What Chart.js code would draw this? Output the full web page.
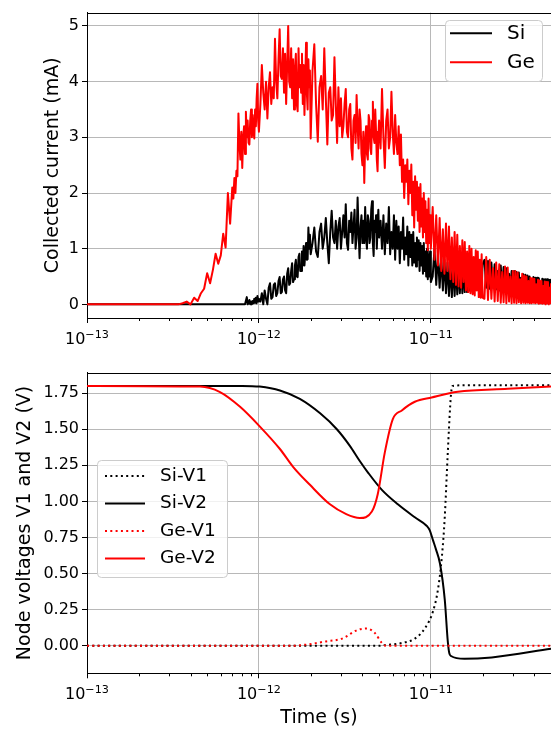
<!DOCTYPE html>
<html>
<head>
<meta charset="utf-8">
<script src="https://cdn.jsdelivr.net/npm/chart.js@4.4.1/dist/chart.umd.min.js"></script>
<style>
  html, body { margin: 0; padding: 0; background: #fff; }
  #wrap { position: relative; width: 551px; height: 729px; }
  canvas { position: absolute; left: 0; }
  #current { top: 0; }
  #voltage { top: 360px; }
</style>
</head>
<body>
<div id="wrap">
  <canvas id="current" width="551" height="360"></canvas>
  <canvas id="voltage" width="551" height="369"></canvas>
</div>
<script>
const FONT = '"DejaVu Sans", sans-serif';

// axis ticks
const xTickValues = [1e-13, 1e-12, 1e-11];
const xTickExponents = ['−13', '−12', '−11'];
const currentTicks = [0, 1, 2, 3, 4, 5];
const voltageTicks = [0, 0.25, 0.5, 0.75, 1, 1.25, 1.5, 1.75];

// collected current, time in ps, current in mA
const timePs = [0.1, 0.34,
  0.36, 0.38, 0.40, 0.42, 0.44, 0.46, 0.48, 0.50, 0.52, 0.54, 0.56, 0.58, 0.60, 0.62, 0.64, 0.66, 0.68, 0.70,
  0.71, 0.72, 0.73, 0.74, 0.75, 0.76, 0.77, 0.78, 0.79, 0.80,
  0.81, 0.82, 0.83, 0.84, 0.85, 0.86, 0.87, 0.88, 0.89, 0.90,
  0.91, 0.92, 0.93, 0.94, 0.95, 0.96, 0.97, 0.98, 0.99, 1.00,
  1.02, 1.04, 1.06, 1.08, 1.10, 1.12, 1.14, 1.16, 1.18, 1.20,
  1.22, 1.24, 1.26, 1.28, 1.30, 1.32, 1.34, 1.36, 1.38, 1.40,
  1.42, 1.44, 1.46, 1.48, 1.50, 1.52, 1.54, 1.56, 1.58, 1.60,
  1.62, 1.64, 1.66, 1.68, 1.70, 1.72, 1.74, 1.76, 1.78, 1.80,
  1.82, 1.84, 1.86, 1.88, 1.90, 1.92, 1.94, 1.96, 1.98, 2.00,
  2.05, 2.10, 2.15, 2.20, 2.25, 2.30, 2.35, 2.40, 2.45, 2.50,
  2.55, 2.60, 2.65, 2.70, 2.75, 2.80, 2.85, 2.90, 2.95, 3.00,
  3.05, 3.10, 3.15, 3.20, 3.25, 3.30, 3.35, 3.40, 3.45, 3.50,
  3.55, 3.60, 3.65, 3.70, 3.75, 3.80, 3.85, 3.90, 3.95, 4.00,
  4.05, 4.10, 4.15, 4.20, 4.25, 4.30, 4.35, 4.40, 4.45, 4.50,
  4.55, 4.60, 4.65, 4.70, 4.75, 4.80, 4.85, 4.90, 4.95, 5.00,
  5.1, 5.2, 5.3, 5.4, 5.5, 5.6, 5.7, 5.8, 5.9, 6.0,
  6.1, 6.2, 6.3, 6.4, 6.5, 6.6, 6.7, 6.8, 6.9, 7.0,
  7.1, 7.2, 7.3, 7.4, 7.5, 7.6, 7.7, 7.8, 7.9, 8.0,
  8.1, 8.2, 8.3, 8.4, 8.5, 8.6, 8.7, 8.8, 8.9, 9.0,
  9.1, 9.2, 9.3, 9.4, 9.5, 9.6, 9.7, 9.8, 9.9, 10.0,
  10.25, 10.5, 10.75, 11.0, 11.25, 11.5, 11.75, 12.0, 12.25, 12.5,
  12.75, 13.0, 13.25, 13.5, 13.75, 14.0, 14.25, 14.5, 14.75, 15.0,
  15.25, 15.5, 15.75, 16.0, 16.25, 16.5, 16.75, 17.0, 17.25, 17.5,
  17.75, 18.0, 18.25, 18.5, 18.75, 19.0, 19.25, 19.5, 19.75, 20.0,
  20.5, 21, 21.5, 22, 22.5, 23, 23.5, 24, 24.5, 25,
  25.5, 26, 26.5, 27, 27.5, 28, 28.5, 29, 29.5, 30,
  30.5, 31, 31.5, 32, 32.5, 33, 33.5, 34, 34.5, 35,
  35.5, 36, 36.5, 37, 37.5, 38, 38.5, 39, 39.5, 40,
  40.5, 41, 41.5, 42, 42.5, 43, 43.5, 44, 44.5, 45,
  45.5, 46, 46.5, 47, 47.5, 48, 48.5, 49, 49.5, 50];

const siCurrent = [0, 0,
  0, 0, 0, 0, 0, 0, 0, 0, 0, 0, 0, 0, 0, 0, 0, 0, 0, 0,
  0, 0, 0, 0, 0, 0, 0, 0, 0, 0,
  0, 0, 0, 0, 0.13, 0.0, 0.02, 0.08, 0.0, 0.05,
  0.0, 0.06, 0.02, 0.1, 0.03, 0.12, 0.02, 0.15, 0.05, 0.1,
  0.05, 0.2, 0.0, 0.25, 0.1, 0.0, 0.3, 0.38, 0.1, 0.13,
  0.35, 0.38, 0.15, 0.2, 0.42, 0.49, 0.2, 0.22, 0.45, 0.5,
  0.25, 0.2, 0.55, 0.65, 0.35, 0.38, 0.6, 0.74, 0.4, 0.45,
  0.7, 0.8, 0.5, 0.49, 0.85, 0.91, 0.6, 0.6, 0.95, 0.7,
  1.05, 0.7, 0.9, 1.1, 0.8, 0.81, 1.38, 1.0, 1.25, 0.9,
  1.1, 1.38, 0.95, 0.85, 1.3, 1.45, 1.0, 1.2, 1.55, 1.1,
  0.74, 1.3, 1.68, 1.2, 1.1, 1.5, 1.0, 1.4, 1.55, 1.0,
  1.3, 1.6, 1.2, 1.8, 1.1, 0.98, 1.5, 1.3, 1.65, 1.1,
  1.4, 1.7, 1.0, 1.2, 1.92, 1.3, 0.83, 1.4, 1.6, 1.1,
  1.5, 1.1, 1.75, 1.2, 1.0, 1.6, 1.5, 1.1, 1.2, 1.7,
  1.85, 1.1, 0.87, 1.5, 1.3, 1.6, 1.0, 1.4, 1.7, 1.2,
  1.5, 1.0, 1.6, 0.9, 1.45, 1.1, 1.75, 0.9, 1.3, 1.0,
  1.6, 0.8, 1.5, 1.0, 1.4, 0.74, 1.3, 1.0, 1.56, 0.8,
  1.2, 0.9, 1.4, 0.7, 1.3, 0.85, 1.25, 0.7, 1.3, 0.75,
  1.1, 0.68, 1.2, 0.8, 1.15, 0.6, 1.1, 0.7, 1.05, 0.55,
  1.1, 0.6, 0.95, 0.5, 1.0, 0.45, 0.9, 0.5, 0.95, 0.4,
  0.5, 1.0, 0.35, 0.9, 0.3, 0.85, 0.25, 0.8, 0.2, 0.75,
  0.15, 0.7, 0.13, 0.72, 0.15, 0.7, 0.18, 0.72, 0.2, 0.75,
  0.2, 0.72, 0.22, 0.75, 0.22, 0.78, 0.25, 0.75, 0.25, 0.78,
  0.28, 0.76, 0.28, 0.8, 0.3, 0.75, 0.3, 0.79, 0.3, 0.72,
  0.8, 0.3, 0.78, 0.28, 0.75, 0.3, 0.72, 0.27, 0.6, 0.25,
  0.7, 0.25, 0.67, 0.24, 0.65, 0.22, 0.55, 0.22, 0.6, 0.22,
  0.6, 0.2, 0.58, 0.2, 0.57, 0.2, 0.48, 0.2, 0.54, 0.19,
  0.53, 0.19, 0.52, 0.18, 0.5, 0.18, 0.42, 0.18, 0.49, 0.17,
  0.48, 0.17, 0.48, 0.16, 0.47, 0.16, 0.4, 0.16, 0.46, 0.15,
  0.45, 0.15, 0.45, 0.15, 0.45, 0.15, 0.44, 0.15, 0.44, 0.15];

const geCurrent = [0, 0,
  0.02, 0.05, 0.0, 0.12, 0.06, 0.2, 0.28, 0.56, 0.38, 0.62, 0.91, 0.73, 0.88, 1.27, 1.02, 2.0, 1.45, 2.1,
  1.9, 2.27, 2.0, 2.4, 2.3, 3.43, 2.9, 2.6, 3.1, 2.45,
  3.0, 3.2, 2.7, 3.46, 3.0, 3.3, 2.9, 2.87, 3.3, 3.5,
  3.0, 3.4, 3.1, 2.98, 3.5, 3.2, 3.7, 3.96, 3.3, 3.1,
  3.6, 4.3, 3.8, 3.5, 4.0, 3.34, 3.9, 4.17, 3.6, 3.9,
  3.7, 4.77, 4.0, 3.7, 4.4, 4.94, 4.1, 4.05, 4.6, 3.8,
  4.5, 3.6, 4.3, 5.0, 4.0, 3.9, 4.6, 3.7, 4.4, 3.5,
  4.2, 4.5, 3.6, 3.47, 4.6, 3.9, 4.3, 3.8, 4.5, 3.6,
  4.3, 3.4, 4.0, 4.7, 3.8, 3.5, 4.4, 3.9, 4.2, 2.98,
  4.2, 4.67, 3.6, 2.92, 3.9, 4.1, 3.5, 4.6, 3.7, 2.87,
  3.8, 3.9, 3.3, 3.4, 4.44, 3.6, 2.9, 3.9, 3.2, 3.7,
  3.0, 3.2, 3.6, 3.87, 3.1, 3.0, 3.5, 3.6, 2.8, 2.6,
  3.3, 3.4, 2.9, 3.76, 3.2, 2.8, 3.5, 3.3, 2.7, 2.5,
  3.1, 2.18, 2.9, 3.2, 2.7, 2.6, 3.4, 3.3, 2.8, 2.7,
  3.3, 3.64, 3.0, 2.9, 3.5, 3.1, 2.6, 2.39, 3.0, 3.3,
  2.8, 3.87, 3.0, 2.45, 3.3, 3.5, 2.8, 3.0, 3.82, 3.1,
  2.7, 3.4, 2.9, 2.7, 3.2, 2.5, 3.05, 2.2, 2.6, 1.91,
  2.5, 2.2, 2.6, 1.8, 2.4, 2.0, 2.51, 1.6, 2.2, 1.38,
  2.3, 1.7, 2.2, 1.5, 2.1, 1.3, 2.16, 1.4, 1.9, 1.2,
  2.0, 1.3, 1.85, 1.1, 1.7, 0.97, 1.9, 1.1, 1.6, 1.0,
  1.75, 0.8, 1.6, 0.7, 1.55, 0.6, 1.35, 0.55, 1.45, 0.6,
  1.4, 0.45, 1.2, 0.4, 1.3, 0.35, 1.25, 0.32, 1.05, 0.3,
  1.15, 0.4, 1.12, 0.25, 0.95, 0.22, 1.05, 0.2, 1.0, 0.18,
  0.85, 0.16, 0.97, 0.25, 0.95, 0.13, 0.8, 0.12, 0.9, 0.12,
  0.1, 0.85, 0.08, 0.8, 0.1, 0.65, 0.05, 0.75, 0.06, 0.72,
  0.03, 0.58, 0.04, 0.68, 0.02, 0.66, 0.05, 0.5, 0.02, 0.6,
  0.03, 0.6, 0.02, 0.57, 0.04, 0.45, 0.02, 0.55, 0.03, 0.52,
  0.02, 0.5, 0.03, 0.42, 0.02, 0.48, 0.02, 0.47, 0.03, 0.46,
  0.02, 0.36, 0.03, 0.44, 0.01, 0.43, 0.02, 0.42, 0.01, 0.33,
  0.02, 0.41, 0.0, 0.4, 0.02, 0.4, 0.0, 0.3, 0.02, 0.38];

// node voltages, time in ps, voltage in V
const siV1Time = [0.1, 5.0, 5.4, 6.78, 8.07, 9.22, 10.3, 11.0, 11.6, 12.05, 12.55, 13.1, 13.4, 16.8, 50];
const siV1 = [0, 0, 0.005, 0.02, 0.05, 0.12, 0.24, 0.39, 0.62, 0.89, 1.34, 1.74, 1.80, 1.805, 1.805];

const siV2Time = [0.1, 0.8, 1.01, 1.325, 1.73, 2.27, 2.84, 3.38, 3.86, 4.31, 5.19, 6.43, 8.07, 9.48, 9.86,
  10.3, 10.7, 11.3, 12.05, 12.55, 12.8, 13.1, 15.7, 22.6, 50];
const siV2 = [1.80, 1.80, 1.795, 1.768, 1.71, 1.61, 1.50, 1.385, 1.28, 1.20, 1.08, 0.98, 0.89, 0.83, 0.80,
  0.73, 0.67, 0.57, 0.32, 0.03, -0.05, -0.07, -0.09, -0.08, -0.02];

const geV1Time = [0.1, 1.51, 1.93, 2.42, 3.04, 3.75, 4.25, 4.72, 5.19, 5.5, 50];
const geV1 = [0, 0, 0.01, 0.03, 0.05, 0.11, 0.12, 0.09, 0.02, 0, 0];

const geV2Time = [0.1, 0.454, 0.594, 0.777, 1.01, 1.325, 1.58, 1.98, 2.59, 3.22, 3.86,
  4.54, 4.91, 5.4, 6.01, 6.78, 8.07, 10.1, 14.35, 28.0, 50];
const geV2 = [1.80, 1.795, 1.757, 1.655, 1.52, 1.363, 1.24, 1.115, 0.98, 0.912, 0.885,
  0.93, 1.05, 1.34, 1.57, 1.63, 1.69, 1.72, 1.76, 1.78, 1.795];

const toPoints = (times, values) => times.map((t, i) => ({ x: t * 1e-12, y: values[i] }));

// top spine and minor ticks of the log axis
const frame = {
  id: 'frame',
  afterDatasetsDraw(chart) {
    const { ctx, chartArea: a } = chart;
    const xs = chart.scales.x;
    ctx.save();
    ctx.strokeStyle = '#000';
    ctx.lineWidth = 1;
    ctx.beginPath();
    ctx.moveTo(a.left, Math.round(a.top) + 0.5);
    ctx.lineTo(a.right, Math.round(a.top) + 0.5);
    for (let e = -13; e <= -11; e++) {
      for (let m = 2; m <= 9; m++) {
        const v = m * Math.pow(10, e);
        if (v > xs.max) break;
        const px = Math.round(xs.getPixelForValue(v)) + 0.5;
        ctx.moveTo(px, a.bottom);
        ctx.lineTo(px, a.bottom + 3);
      }
    }
    ctx.stroke();
    ctx.restore();
  }
};

// decade labels written as 10 with a raised exponent
const logLabels = {
  id: 'logLabels',
  afterDraw(chart) {
    const { ctx, chartArea: a } = chart;
    const xs = chart.scales.x;
    ctx.save();
    ctx.fillStyle = '#000';
    ctx.textAlign = 'left';
    ctx.textBaseline = 'alphabetic';
    xTickValues.forEach((v, i) => {
      const px = xs.getPixelForValue(v);
      ctx.font = '16px ' + FONT;
      const w1 = ctx.measureText('10').width;
      ctx.font = '11.2px ' + FONT;
      const w2 = ctx.measureText(xTickExponents[i]).width;
      const x0 = px - (w1 + w2) / 2;
      ctx.font = '16px ' + FONT;
      ctx.fillText('10', x0, a.bottom + 26);
      ctx.font = '11.2px ' + FONT;
      ctx.fillText(xTickExponents[i], x0 + w1, a.bottom + 20);
    });
    ctx.restore();
  }
};

// matplotlib style framed legend
const boxLegend = {
  id: 'boxLegend',
  afterDraw(chart, args, o) {
    const ctx = chart.ctx;
    ctx.save();
    ctx.beginPath();
    ctx.roundRect(o.x + 0.5, o.y + 0.5, o.w, o.h, 4);
    ctx.fillStyle = 'rgba(255,255,255,0.8)';
    ctx.fill();
    ctx.strokeStyle = '#cccccc';
    ctx.lineWidth = 1;
    ctx.stroke();
    ctx.font = o.size + 'px ' + FONT;
    ctx.textBaseline = 'middle';
    chart.data.datasets.forEach((ds, i) => {
      const y = o.y + o.first + i * o.gap;
      ctx.strokeStyle = ds.borderColor;
      ctx.lineWidth = ds.borderWidth;
      ctx.setLineDash(ds.borderDash || []);
      ctx.beginPath();
      ctx.moveTo(o.x + o.pad, y);
      ctx.lineTo(o.x + o.pad + o.len, y);
      ctx.stroke();
      ctx.fillStyle = '#000';
      ctx.fillText(ds.label, o.x + o.text, y);
    });
    ctx.restore();
  }
};

const gridStyle = { color: '#b8b8b8', lineWidth: 1, tickLength: 5, tickColor: '#000' };
const borderStyle = { color: '#000', width: 1 };

function timeAxis(title, height) {
  return {
    type: 'logarithmic',
    min: 1e-13,
    max: 5e-11,
    afterBuildTicks: s => { s.ticks = xTickValues.map(v => ({ value: v })); },
    afterFit: s => { s.height = height; },
    ticks: { display: false, autoSkip: false, maxRotation: 0 },
    grid: gridStyle,
    border: borderStyle,
    title: {
      display: !!title, text: title, color: '#000',
      font: { family: FONT, size: 19 }, padding: { top: 0, bottom: 0 }
    }
  };
}

function valueAxis(min, max, ticks, digits, title, titlePad) {
  return {
    min, max,
    afterBuildTicks: s => { s.ticks = ticks.map(v => ({ value: v })); },
    afterFit: s => { s.width = 87; },
    ticks: {
      padding: 3, color: '#000',
      font: { family: FONT, size: 16 },
      callback: v => Number(v).toFixed(digits)
    },
    grid: gridStyle,
    border: borderStyle,
    title: {
      display: true, text: title, color: '#000',
      font: { family: FONT, size: 19 }, padding: { top: titlePad, bottom: 0 }
    }
  };
}

const lineStyle = { pointRadius: 0, borderWidth: 2, borderJoinStyle: 'round', fill: false };

new Chart(document.getElementById('current'), {
  type: 'line',
  data: {
    datasets: [
      { ...lineStyle, label: 'Si', data: toPoints(timePs, siCurrent), borderColor: '#000000', order: 2 },
      { ...lineStyle, label: 'Ge', data: toPoints(timePs, geCurrent), borderColor: '#ff0000', order: 1 }
    ]
  },
  options: {
    responsive: false,
    animation: false,
    events: [],
    layout: { autoPadding: false, padding: { top: 10.7, right: 0, bottom: 0, left: 0 } },
    scales: {
      x: timeAxis('', 42),
      y: valueAxis(-0.245, 5.24, currentTicks, 0, 'Collected current (mA)', 42)
    },
    plugins: {
      legend: { display: false },
      tooltip: { enabled: false },
      boxLegend: { x: 445, y: 20, w: 97, h: 61, first: 13.3, gap: 29, pad: 5, len: 42, text: 62, size: 20 }
    }
  },
  plugins: [frame, logLabels, boxLegend]
});

new Chart(document.getElementById('voltage'), {
  type: 'line',
  data: {
    datasets: [
      { ...lineStyle, label: 'Si-V1', data: toPoints(siV1Time, siV1), borderColor: '#000000',
        borderDash: [2, 3.3], cubicInterpolationMode: 'monotone', order: 4 },
      { ...lineStyle, label: 'Si-V2', data: toPoints(siV2Time, siV2), borderColor: '#000000',
        cubicInterpolationMode: 'monotone', order: 3 },
      { ...lineStyle, label: 'Ge-V1', data: toPoints(geV1Time, geV1), borderColor: '#ff0000',
        borderDash: [2, 3.3], cubicInterpolationMode: 'monotone', order: 2 },
      { ...lineStyle, label: 'Ge-V2', data: toPoints(geV2Time, geV2), borderColor: '#ff0000',
        cubicInterpolationMode: 'monotone', order: 1 }
    ]
  },
  options: {
    responsive: false,
    animation: false,
    events: [],
    layout: { autoPadding: false, padding: { top: 5, right: 0, bottom: 0, left: 0 } },
    scales: {
      x: timeAxis('Time (s)', 55.7),
      y: valueAxis(-0.19, 1.892, voltageTicks, 2, 'Node voltages V1 and V2 (V)', 13.7)
    },
    plugins: {
      legend: { display: false },
      tooltip: { enabled: false },
      boxLegend: { x: 97, y: 100, w: 130, h: 117, first: 16, gap: 27.5, pad: 8, len: 40, text: 63, size: 18.5 }
    }
  },
  plugins: [frame, logLabels, boxLegend]
});
</script>
</body>
</html>
